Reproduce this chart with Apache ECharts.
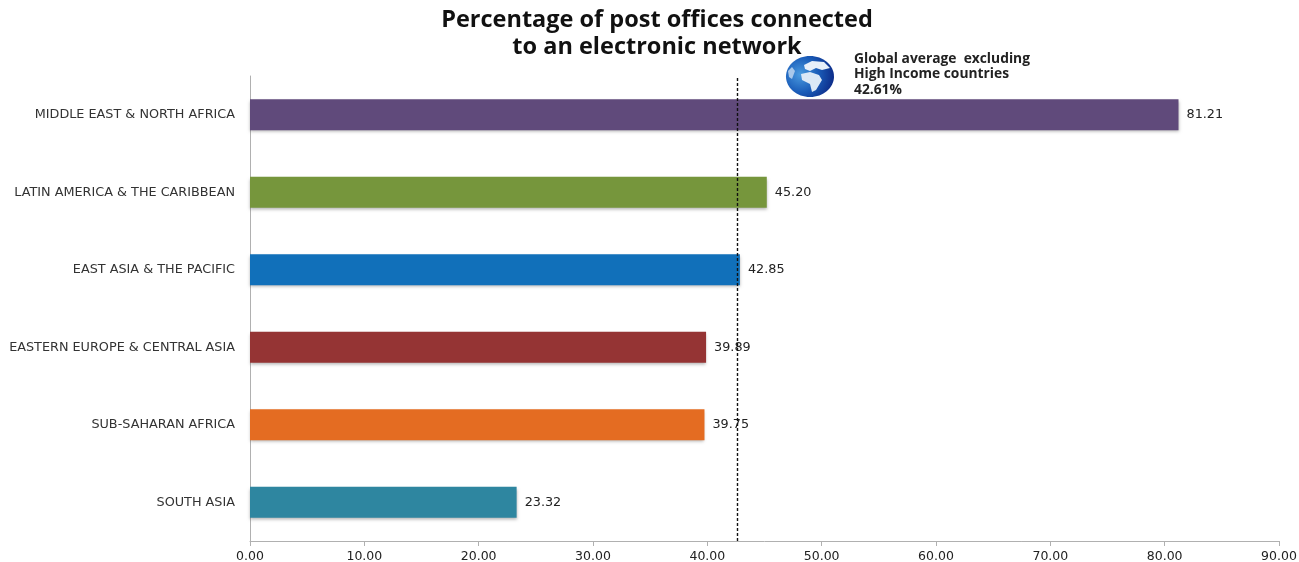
<!DOCTYPE html>
<html>
<head>
<meta charset="utf-8">
<style>html,body{margin:0;padding:0;background:#fff}#chart{width:1299px;height:562px}</style>
<script src="https://cdn.jsdelivr.net/npm/echarts@6/dist/echarts.min.js"></script>
</head>
<body>
<div id="chart"></div>
<script>
// Regions, listed bottom to top because a category y axis grows upward
const regions = ['SOUTH ASIA','SUB-SAHARAN AFRICA','EASTERN EUROPE & CENTRAL ASIA','EAST ASIA & THE PACIFIC','LATIN AMERICA & THE CARIBBEAN','MIDDLE EAST & NORTH AFRICA'];
const connectedShare = [23.32,39.75,39.89,42.85,45.20,81.21];
const barColors = ['#2e86a0','#e46c22','#953434','#1170ba','#76963c','#604a7b'];
const globalAverage = 42.61;
const titleLines = ['Percentage of post offices connected','to an electronic network'];
const averageNote = ['Global average  excluding','High Income countries',globalAverage.toFixed(2)+'%'];
const labelFont = '"DejaVu Sans"';

const chart = echarts.init(document.getElementById('chart'),null,{renderer:'canvas'});
chart.setOption({
  animation:false,
  backgroundColor:'#fff',
  // Fixed plot box: long tick labels must not shrink it
  grid:{left:250,right:20,top:76,bottom:21,containLabel:false,outerBoundsMode:'none'},
  xAxis:{
    type:'value',min:0,max:90,interval:10,
    splitLine:{show:false},
    axisLine:{show:true,lineStyle:{color:'#b0b0b0'}},
    axisTick:{show:true,length:5,lineStyle:{color:'#b0b0b0'}},
    axisLabel:{formatter:v=>v.toFixed(2),color:'#222',fontFamily:labelFont,fontSize:12.5,margin:9}
  },
  yAxis:{
    type:'category',data:regions,
    axisLine:{show:true,lineStyle:{color:'#b0b0b0'}},
    axisTick:{show:false},
    axisLabel:{color:'#333',fontFamily:labelFont,fontSize:12.8,margin:15}
  },
  series:[{
    type:'bar',barWidth:31,
    data:connectedShare.map((v,i)=>({value:v,itemStyle:{color:barColors[i]}})),
    itemStyle:{shadowColor:'rgba(0,0,0,0.28)',shadowBlur:3,shadowOffsetX:0,shadowOffsetY:2},
    label:{show:true,position:'right',distance:8,formatter:p=>p.value.toFixed(2),color:'#222',fontFamily:labelFont,fontSize:12.8},
    markLine:{
      silent:true,symbol:'none',animation:false,
      label:{show:false},
      lineStyle:{color:'#111',type:[3,2],width:1.4},
      data:[{xAxis:globalAverage}]
    }
  }],
  graphic:[
    {type:'text',x:657,y:8,style:{text:titleLines[0],font:'bold 23.5px "Open Sans"',fill:'#111',align:'center'}},
    {type:'text',x:657,y:35,style:{text:titleLines[1],font:'bold 23.5px "Open Sans"',fill:'#111',align:'center'}},
    {type:'text',x:854,y:51,style:{text:averageNote.join('\n'),font:'bold 13.8px "Open Sans"',fill:'#222',lineHeight:15.7}},
    // Small globe emblem beside the note
    {type:'group',x:786,y:56,children:[
      {type:'ellipse',shape:{cx:24,cy:20.5,rx:24,ry:20.5},style:{fill:{type:'radial',x:0.3,y:0.45,r:0.8,colorStops:[{offset:0,color:'#4a9be0'},{offset:0.55,color:'#1a5cb8'},{offset:1,color:'#0e2f8c'}]}}},
      {type:'polygon',shape:{points:[[18,9],[26,5],[38,6],[44,12],[36,14],[30,12],[24,15],[19,13]]},style:{fill:'#e8f0fa'}},
      {type:'polygon',shape:{points:[[15,18],[24,16],[33,19],[36,24],[30,34],[26,36],[24,28],[16,24]]},style:{fill:'#dbe8f6'}},
      {type:'polygon',shape:{points:[[2,15],[6,11],[9,15],[6,23],[3,21]]},style:{fill:'#a9c8ea'}}
    ]}
  ]
});
</script>
</body>
</html>
